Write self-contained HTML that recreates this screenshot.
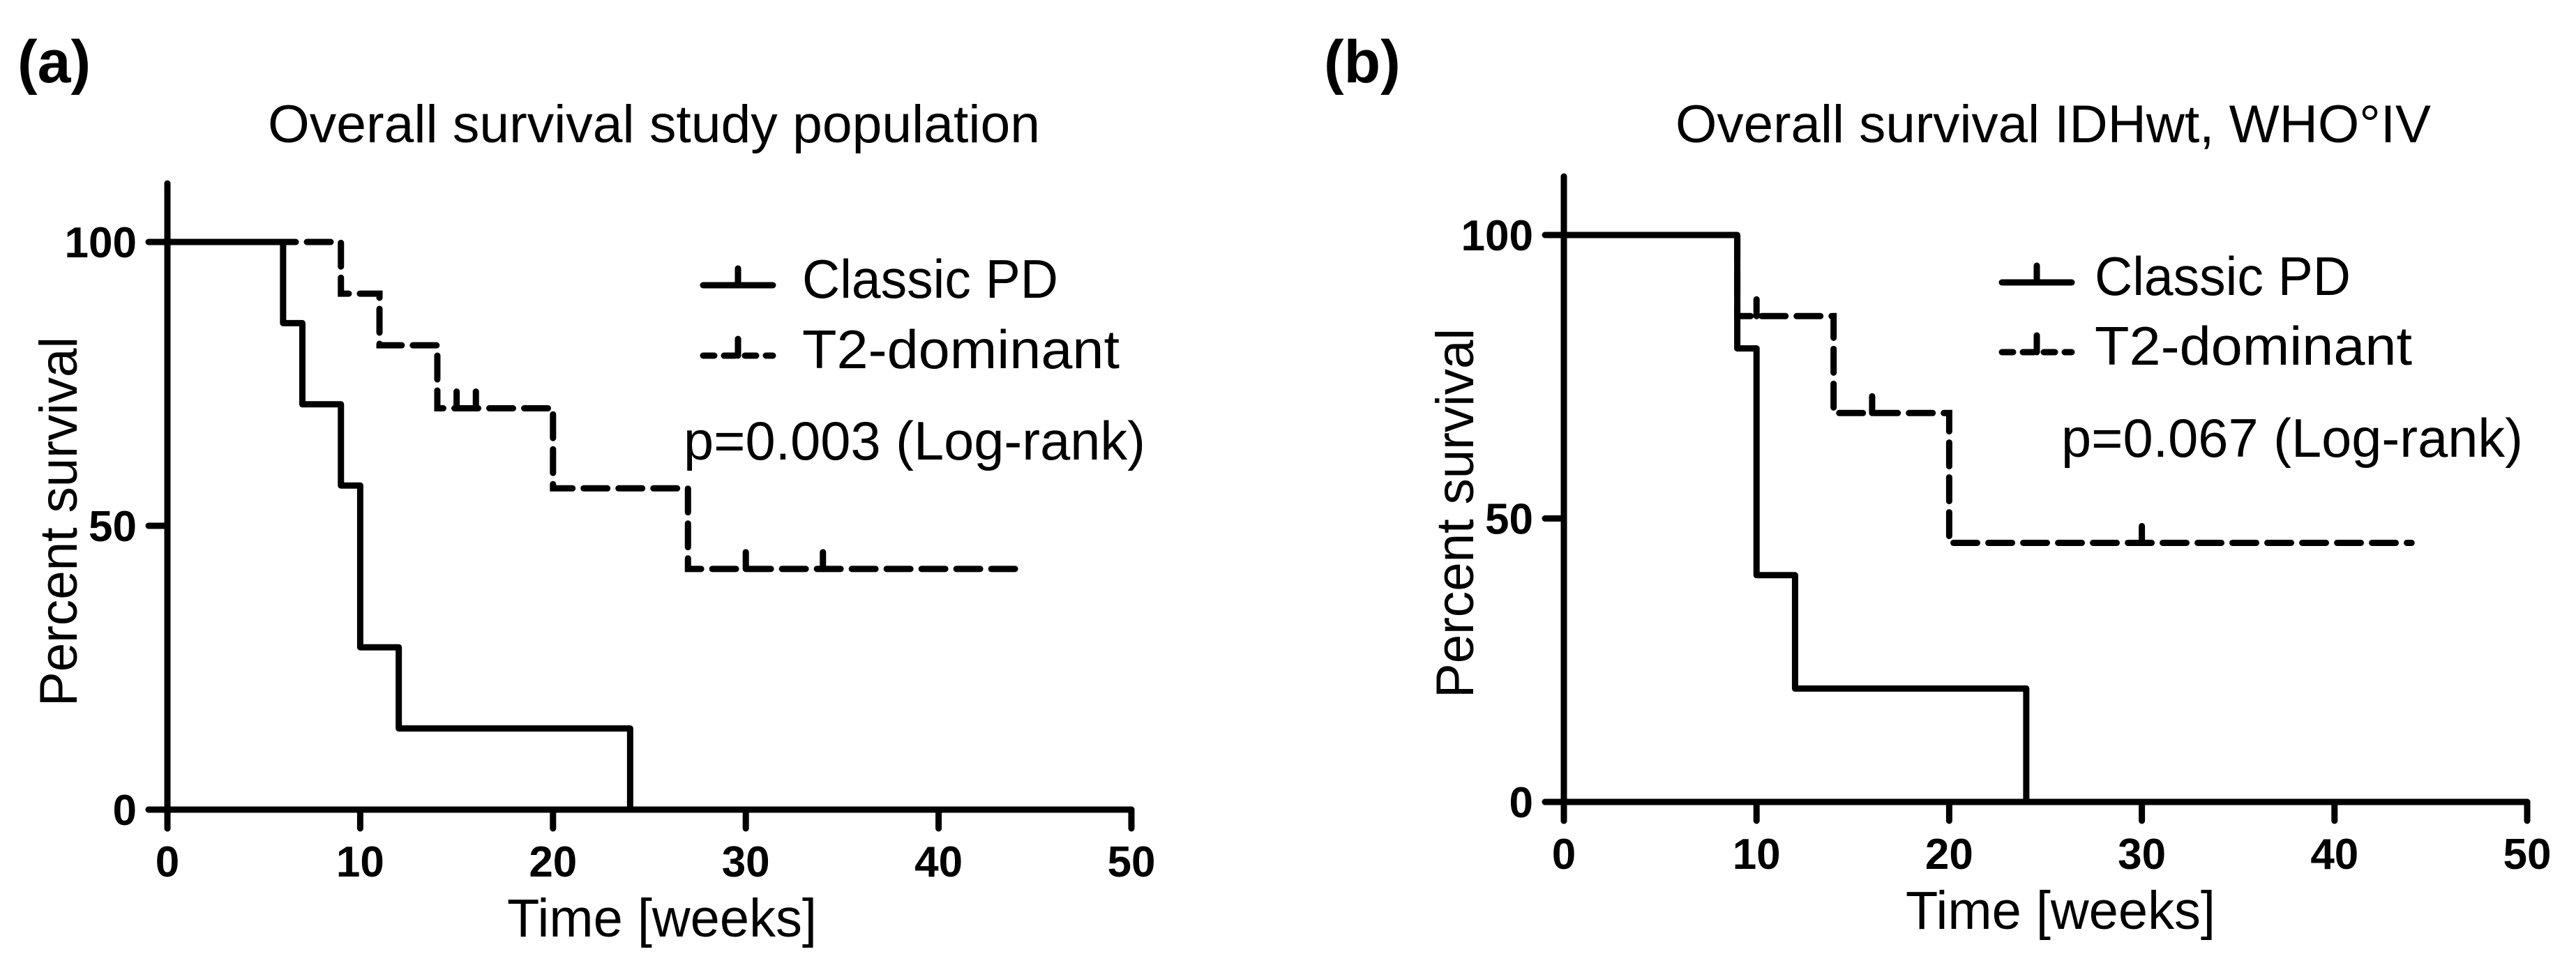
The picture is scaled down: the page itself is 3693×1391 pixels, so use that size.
<!DOCTYPE html>
<html><head><meta charset="utf-8"><style>
html,body{margin:0;padding:0;background:#fff;}
svg{display:block;}
text{font-family:"Liberation Sans",Arial,sans-serif;fill:#000;}
</style></head><body>
<svg id="fig" width="3693" height="1391" viewBox="0 0 3693 1391" xmlns="http://www.w3.org/2000/svg"></svg>
<script>
// ---- data ----
const xTicks = [0,10,20,30,40,50];
const yTicks = [0,50,100];
// Panel A
const aClassicT = [0,6,7,9,10,12,24];
const aClassicS = [100,85.7,71.4,57.1,28.6,14.3,0];
const aClassicEnd = 24;
const aT2T = [0,9,11,14,20,27];
const aT2S = [100,90.9,81.8,70.7,56.6,42.4];
const aT2End = 44;
const aT2CensorT = [15,16,30,34];
// Panel B
const bClassicT = [0,9,10,12,24];
const bClassicS = [100,80,40,20,0];
const bClassicEnd = 24;
const bT2T = [0,9,14,20];
const bT2S = [100,85.7,68.6,45.7];
const bT2End = 44;
const bT2CensorT = [10,16,30];

const NS = "http://www.w3.org/2000/svg";
const svg = document.getElementById('fig');
function el(tag, attrs, parent){
  const e = document.createElementNS(NS, tag);
  for (const k in attrs) e.setAttribute(k, attrs[k]);
  (parent||svg).appendChild(e);
  return e;
}
function txt(s, attrs, parent){ const t = el('text', attrs, parent); t.textContent = s; return t; }

const LW = 9;
const DASH = "34 16";

function panel(cfg){
  const g = el('g', {});
  
  
  const X = t => cfg.x0 + (cfg.x50 - cfg.x0) * t / 50;
  const Y = s => cfg.y0 - (cfg.y0 - cfg.y100) * s / 100;

  const pl = txt(cfg.letter, {x:cfg.letterX, y:118, 'font-size':86, 'font-weight':'bold'}, g);
  
  
  const ti = txt(cfg.title, {x:cfg.titleX, y:204, 'font-size':76, textLength:cfg.titleW, lengthAdjust:'spacingAndGlyphs'}, g);
  
  

  const ax = el('g', {stroke:'#000','stroke-width':LW,'stroke-linecap':'round',fill:'none'}, g);
  
  
  el('line', {x1:cfg.x0, y1:cfg.yTop, x2:cfg.x0, y2:cfg.y0+27}, ax);
  el('line', {x1:cfg.x0-27, y1:cfg.y0, x2:cfg.x50, y2:cfg.y0}, ax);
  xTicks.forEach(t => {
    const l = el('line', {x1:X(t), y1:cfg.y0, x2:X(t), y2:cfg.y0+27}, ax);
    
    
    const lab = txt(String(t), {x:X(t), y:cfg.y0+96, 'font-size':62, 'font-weight':'bold', 'text-anchor':'middle'}, g);
    
    
  });
  yTicks.forEach(s => {
    const l = el('line', {x1:cfg.x0-27, y1:Y(s), x2:cfg.x0, y2:Y(s)}, ax);
    
    
    const lab = txt(String(s), {x:cfg.x0-44, y:Y(s)+22, 'font-size':62, 'font-weight':'bold', 'text-anchor':'end'}, g);
    
    
  });
  const xt = txt('Time [weeks]', {x:cfg.xLabX, y:cfg.y0+182, 'font-size':77, textLength:cfg.xLabW, lengthAdjust:'spacingAndGlyphs'}, g);
  
  
  const yt = txt('Percent survival', {x:0, y:0, 'font-size':76, 'text-anchor':'middle', textLength:530, lengthAdjust:'spacingAndGlyphs', transform:`translate(${cfg.yLabX},${cfg.yLabY}) rotate(-90)`}, g);
  
  

  function stepPath(T, S, end){
    let d = `M${X(T[0])},${Y(S[0])}`;
    for (let i=1;i<T.length;i++){ d += ` H${X(T[i])} V${Y(S[i])}`; }
    d += ` H${X(end)}`;
    return d;
  }
  function censorVal(T, S, t){ let v = S[0]; for (let i=0;i<T.length;i++) if (T[i] <= t) v = S[i]; return v; }

  const pc = el('path', {d:stepPath(cfg.cT, cfg.cS, cfg.cEnd), stroke:'#000','stroke-width':LW,fill:'none','stroke-linecap':'round','stroke-linejoin':'round'}, g);
  
  
  const pt = el('path', {d:stepPath(cfg.tT, cfg.tS, cfg.tEnd), stroke:'#000','stroke-width':LW,fill:'none','stroke-dasharray':DASH,'stroke-linecap':'round'}, g);
  
  
  cfg.cens.forEach(t => {
    const v = censorVal(cfg.tT, cfg.tS, t);
    const c = el('line', {x1:X(t), y1:Y(v), x2:X(t), y2:Y(v)-24, stroke:'#000','stroke-width':LW,'stroke-linecap':'round'}, g);
    
    
  });

  const lg = el('g', {}, g);
  
  
  const lx1 = cfg.legLineX, lx2 = cfg.legLineX + 100;
  const e1 = el('g', {}, lg);
  
  
  el('line', {x1:lx1, y1:cfg.leg1Y-18, x2:lx2, y2:cfg.leg1Y-18, stroke:'#000','stroke-width':LW,'stroke-linecap':'round'}, e1);
  el('line', {x1:(lx1+lx2)/2, y1:cfg.leg1Y-18, x2:(lx1+lx2)/2, y2:cfg.leg1Y-42, stroke:'#000','stroke-width':LW,'stroke-linecap':'round'}, e1);
  txt('Classic PD', {x:cfg.legTextX, y:cfg.leg1Y, 'font-size':78, textLength:cfg.leg1W, lengthAdjust:'spacingAndGlyphs'}, e1);
  const e2 = el('g', {}, lg);
  
  
  el('line', {x1:lx1, y1:cfg.leg2Y-18, x2:lx2, y2:cfg.leg2Y-18, stroke:'#000','stroke-width':LW,'stroke-dasharray':'16 14','stroke-linecap':'round'}, e2);
  el('line', {x1:(lx1+lx2)/2, y1:cfg.leg2Y-18, x2:(lx1+lx2)/2, y2:cfg.leg2Y-42, stroke:'#000','stroke-width':LW,'stroke-linecap':'round'}, e2);
  txt('T2-dominant', {x:cfg.legTextX, y:cfg.leg2Y, 'font-size':78, textLength:cfg.leg2W, lengthAdjust:'spacingAndGlyphs'}, e2);
  const pv = txt(cfg.pText, {x:cfg.pX, y:cfg.pY, 'font-size':78, textLength:cfg.pW, lengthAdjust:'spacingAndGlyphs'}, g);
  
  
}

panel({id:'a', letter:'(a)', letterX:25, title:'Overall survival study population', titleX:384, titleW:1107,
  x0:240, x50:1622, y0:1161, y100:347, yTop:263,
  xLabX:727, xLabW:444, yLabX:110, yLabY:748,
  cT:aClassicT, cS:aClassicS, cEnd:aClassicEnd, tT:aT2T, tS:aT2S, tEnd:aT2End, cens:aT2CensorT,
  legLineX:1008, legTextX:1150, leg1Y:427, leg2Y:528, leg1W:367, leg2W:455,
  pText:'p=0.003 (Log-rank)', pX:980, pY:659, pW:662});

panel({id:'b', letter:'(b)', letterX:1898, title:'Overall survival IDHwt, WHO°IV', titleX:2402, titleW:1083,
  x0:2242, x50:3623, y0:1150, y100:337, yTop:253,
  xLabX:2732, xLabW:444, yLabX:2112, yLabY:736,
  cT:bClassicT, cS:bClassicS, cEnd:bClassicEnd, tT:bT2T, tS:bT2S, tEnd:bT2End, cens:bT2CensorT,
  legLineX:2870, legTextX:3003, leg1Y:423, leg2Y:523, leg1W:367, leg2W:455,
  pText:'p=0.067 (Log-rank)', pX:2955, pY:655, pW:662});
</script>
</body></html>
